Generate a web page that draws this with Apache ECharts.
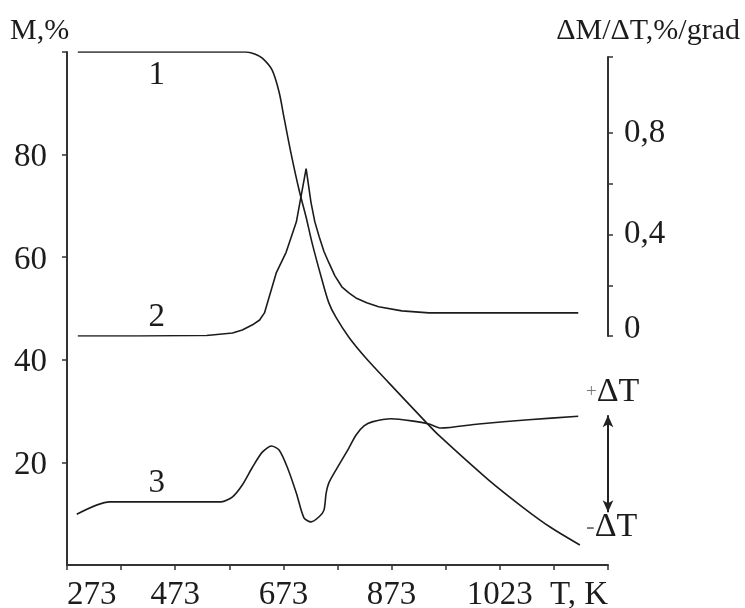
<!DOCTYPE html>
<html>
<head>
<meta charset="utf-8">
<script src="https://cdn.jsdelivr.net/npm/echarts@6/dist/echarts.min.js"></script>
<style>
html, body { margin: 0; padding: 0; background: #fff; }
#chart { width: 745px; height: 608px; }
</style>
</head>
<body>
<div id="chart"></div>
<script>
// temperature axis, K (a tick every 100)
var xTicks = [273, 373, 473, 573, 673, 773, 873, 973, 1073, 1173, 1273]
var xTickLabels = ['273', '', '473', '', '673', '', '873', '', '1023', '', 'T, K']
// left axis M,%
var mTicks = [20, 40, 60, 80, 100]
var mLabels = [20, 40, 60, 80]
// right axis dM/dT
var dmTicks = [0, 0.2, 0.4, 0.6, 0.8, 1.1]
var dmLabels = [0, 0.4, 0.8]

// curve 1 - mass loss
var t1 = [293, 604, 620, 634, 652, 665, 674, 687, 702, 715, 726, 743, 757, 770, 794, 825, 868, 936, 960, 1052, 1115, 1166, 1221]
var m1 = [100, 100, 99.6, 98.8, 96.5, 92.2, 87.3, 80.3, 73.1, 67.8, 62.8, 56.1, 51.1, 48.3, 44.4, 40.4, 35.5, 27.9, 25.3, 16.6, 11.3, 7.4, 3.9]

// curve 2 - dM/dT
var t2 = [293, 407, 531, 579, 597, 616, 629, 638, 660, 678, 697, 715, 724, 731, 739, 748, 757, 768, 781, 794, 807, 827, 849, 892, 942, 1218]
var dm2 = [0, 0, 0.002, 0.012, 0.024, 0.044, 0.063, 0.091, 0.25, 0.33, 0.45, 0.66, 0.527, 0.451, 0.392, 0.333, 0.289, 0.238, 0.194, 0.17, 0.15, 0.131, 0.115, 0.099, 0.091, 0.091]

// curve 3 - DTA
var t3 = [291, 352, 558, 579, 597, 616, 634, 651, 665, 680, 697, 711, 724, 739, 748, 752, 757, 770, 794, 807, 822, 837, 873, 910, 942, 964, 1034, 1126, 1218]
var dt3 = [9.9, 12.3, 12.3, 13.3, 15.6, 19.1, 22.0, 23.2, 22.4, 19.1, 14.0, 9.2, 8.4, 9.4, 10.7, 14.0, 16.0, 18.5, 22.8, 25.3, 27.1, 27.9, 28.5, 28.1, 27.5, 26.7, 27.5, 28.3, 29.0]

function zip(a, b) {
    var out = []
    for (var i = 0; i < a.length; i++) out.push([a[i], b[i]])
    return out
}

var font = "'Liberation Serif', 'DejaVu Serif', serif"
var ink = '#1c1c1c'
var numSize = 33

function curveLabel(txt, coord) {
    return {
        symbol: 'circle',
        symbolSize: 1,
        itemStyle: { color: 'rgba(0,0,0,0)' },
        label: { show: true, position: 'inside', formatter: txt, fontSize: numSize, fontFamily: font, color: ink },
        data: [{ coord: coord }]
    }
}

var dom = document.getElementById('chart')
var chart = echarts.init(dom)

var option = {
    animation: false,
    textStyle: { fontFamily: font, color: ink },
    grid: [
        { left: 67, right: 137, top: 52, bottom: 43, containLabel: false, outerBoundsMode: 'none' },
        { left: 67, right: 137, top: 57, bottom: 272, containLabel: false, outerBoundsMode: 'none' }
    ],
    xAxis: [{
        gridIndex: 0,
        type: 'value',
        min: 273,
        max: 1273,
        interval: 100,
        axisLine: { show: true, onZero: false, lineStyle: { color: '#333', width: 2 } },
        axisTick: { show: true, length: 5, lineStyle: { color: '#333', width: 1.5 } },
        axisLabel: {
            margin: 14,
            fontSize: numSize,
            fontFamily: font,
            color: ink,
            showMinLabel: true,
            showMaxLabel: true,
            alignMinLabel: 'left',
            alignMaxLabel: 'right',
            formatter: function (v) {
                var i = xTicks.indexOf(Math.round(v))
                return i >= 0 ? xTickLabels[i] : ''
            }
        },
        splitLine: { show: false }
    }, {
        gridIndex: 1,
        type: 'value',
        min: 273,
        max: 1273,
        show: false
    }],
    yAxis: [{
        gridIndex: 0,
        type: 'value',
        min: 0,
        max: 100,
        axisLine: { show: true, lineStyle: { color: '#333', width: 2 } },
        axisTick: { show: true, length: 5, customValues: mTicks, lineStyle: { color: '#333', width: 1.5 } },
        axisLabel: {
            margin: 20,
            fontSize: numSize,
            fontFamily: font,
            color: ink,
            customValues: mLabels,
            formatter: function (v) { return '{n|' + v + '}' },
            rich: { n: { fontSize: numSize, fontFamily: font, color: ink, padding: [6, 0, 0, 0] } }
        },
        splitLine: { show: false }
    }, {
        gridIndex: 1,
        type: 'value',
        position: 'right',
        min: 0,
        max: 1.1,
        axisLine: { show: true, lineStyle: { color: '#333', width: 2 } },
        axisTick: { show: true, length: 5, customValues: dmTicks, lineStyle: { color: '#333', width: 1.5 } },
        axisLabel: {
            margin: 16,
            fontSize: numSize,
            fontFamily: font,
            color: ink,
            customValues: dmLabels,
            formatter: function (v) {
                var s = String(v).replace('.', ',')
                return v === 0 ? '{z|' + s + '}' : '{n|' + s + '}'
            },
            rich: {
                n: { fontSize: numSize, fontFamily: font, color: ink },
                z: { fontSize: numSize, fontFamily: font, color: ink, padding: [0, 0, 14, 0] }
            }
        },
        splitLine: { show: false }
    }],
    series: [{
        name: '1',
        type: 'line',
        xAxisIndex: 0,
        yAxisIndex: 0,
        data: zip(t1, m1),
        smooth: 0.3,
        showSymbol: false,
        lineStyle: { color: ink, width: 1.6 },
        markPoint: curveLabel('1', [439, 95.5])
    }, {
        name: '2',
        type: 'line',
        xAxisIndex: 1,
        yAxisIndex: 1,
        data: zip(t2, dm2),
        smooth: false,
        showSymbol: false,
        lineStyle: { color: ink, width: 1.6 },
        markPoint: curveLabel('2', [439, 0.072])
    }, {
        name: '3',
        type: 'line',
        xAxisIndex: 0,
        yAxisIndex: 0,
        data: zip(t3, dt3),
        smooth: 0.25,
        showSymbol: false,
        lineStyle: { color: ink, width: 1.6 },
        markPoint: curveLabel('3', [439, 16.0]),
        markLine: {
            silent: true,
            symbol: ['arrow', 'arrow'],
            symbolSize: [8, 12],
            label: { show: false },
            lineStyle: { color: '#222', width: 2, type: 'solid' },
            data: [[{ coord: [1273, 29.2] }, { coord: [1273, 10.3] }]]
        }
    }],
    graphic: [{
        type: 'text',
        left: 10,
        top: 16,
        style: { text: 'M,%', font: '30px ' + font, fill: ink }
    }, {
        type: 'text',
        right: 5,
        top: 16,
        style: { text: 'ΔM/ΔT,%/grad', font: '30px ' + font, fill: ink }
    }, {
        type: 'text',
        left: 586,
        top: 375,
        style: {
            text: '{p|+}{d|ΔT}',
            fill: ink,
            rich: {
                p: { fontSize: 19, fontFamily: font, fill: '#777' },
                d: { fontSize: 34, fontFamily: font, fill: ink }
            }
        }
    }, {
        type: 'text',
        left: 586,
        top: 510,
        style: {
            text: '{p|-}{d|ΔT}',
            fill: ink,
            rich: {
                p: { fontSize: 26, fontFamily: font, fill: '#777' },
                d: { fontSize: 34, fontFamily: font, fill: ink }
            }
        }
    }]
}
chart.setOption(option)
</script>
</body>
</html>
